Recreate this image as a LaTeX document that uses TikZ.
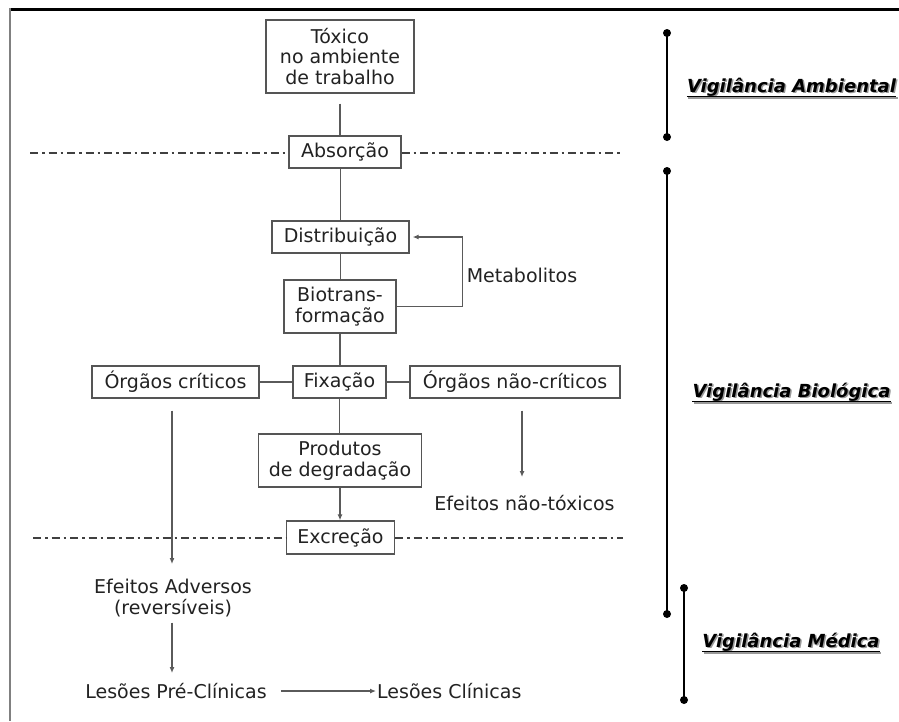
\documentclass[tikz,border=0pt]{standalone}
\usepackage{fontspec}
\setmainfont{DejaVu Sans}
\usetikzlibrary{arrows.meta,calc}
\definecolor{txt}{HTML}{222222}
\definecolor{boxc}{HTML}{555555}
\definecolor{linec}{HTML}{5a5a5a}
\tikzset{
 box/.style={draw=boxc, line width=1.3pt, inner sep=0pt, align=center, text=txt, font=\fontsize{19}{20.5}\selectfont},
 plain/.style={inner sep=0pt, align=center, text=txt, font=\fontsize{19}{21}\selectfont},
 conn/.style={draw=linec, line width=1.4pt},
 arr/.style={conn, -{Latex[length=6pt,width=5pt]}},
 sepline/.style={draw=black!75, line width=2pt, dash pattern=on 8pt off 4pt on 2.5pt off 4pt},
 bar/.style={line width=2.6pt, black},
 lbl/.style={inner sep=0pt, font=\fontsize{18}{20}\selectfont\bfseries\itshape, text=black},
 lblsh/.style={lbl, text=black!40},
}
\newcommand\vigil[3]{%
 \node[lblsh] at ($#2+(1.5,1.5)$) {#3};
 \node[lbl] (#1) at #2 {#3};
 \draw[line width=1.5pt, black!40] ([shift={(1.5pt,-5.5pt)}]#1.base west) -- ([shift={(1.5pt,-5.5pt)}]#1.base east);
 \draw[line width=1.5pt] ([yshift=-4pt]#1.base west) -- ([yshift=-4pt]#1.base east);
}
\begin{document}
\begin{tikzpicture}[x=1pt,y=-1pt]
\useasboundingbox (0,0) rectangle (899,721);
\fill[white] (0,0) rectangle (899,721);
% frame
\draw[line width=3pt] (9,9.5) -- (899,9.5);
\draw[line width=2pt, black!50] (10,8) -- (10,721);

% boxes
\node[box, minimum width=148pt, minimum height=73pt] (tox) at (340,56.5) {Tóxico\\no ambiente\\de trabalho};
\node[box, minimum width=112pt, minimum height=32pt] (abs) at (345,152) {Absorção};
\node[box, minimum width=137pt, minimum height=32pt] (dist) at (340.5,237) {Distribuição};
\node[box, minimum width=112pt, minimum height=53pt] (bio) at (340,306.5) {Biotrans-\\formação};
\node[box, minimum width=93pt, minimum height=32pt] (fix) at (339.5,382) {Fixação};
\node[box, minimum width=167pt, minimum height=32pt] (ocr) at (175.5,382) {Órgãos críticos};
\node[box, minimum width=210pt, minimum height=32pt] (onc) at (515,382) {Órgãos não-críticos};
\node[box, minimum width=163pt, minimum height=53pt] (prod) at (340,460.5) {Produtos\\de degradação};
\node[box, minimum width=108pt, minimum height=33pt] (exc) at (340.5,537.5) {Excreção};

% plain texts
\node[plain] (met) at (522,275) {Metabolitos};
\node[plain] (ntx) at (524.5,503) {Efeitos não-tóxicos};
\node[plain] (adv) at (173,598.5) {Efeitos Adversos\\(reversíveis)};
\node[plain] (lpre) at (176,691) {Lesões Pré-Clínicas};
\node[plain, anchor=west] (lcl) at (377,691) {Lesões Clínicas};

% separator lines
\coordinate (s1l) at (30,153);
\coordinate (s1r) at (623,153);
\coordinate (s2l) at (33,538);
\coordinate (s2r) at (623,538);
\draw[sepline] (s1l) -- (abs.west |- s1l);
\draw[sepline] (abs.east |- s1r) -- (s1r);
\draw[sepline] (s2l) -- (exc.west |- s2l);
\draw[sepline] (exc.east |- s2r) -- (s2r);

% connectors
\draw[conn, shorten <=10pt] (tox.south) -- (tox.south |- abs.north);
\draw[conn] (abs.south -| dist.north) -- (dist.north);
\draw[conn] (dist.south) -- (dist.south |- bio.north);
\draw[conn] (bio.south) -- (bio.south |- fix.north);
\draw[conn] (fix.south) -- (fix.south |- prod.north);
\draw[arr] (prod.south) -- (prod.south |- exc.north);
\draw[conn] (ocr.east) -- (fix.west);
\draw[conn] (fix.east) -- (onc.west);
\draw[arr, shorten >=3pt] (bio.east) -- ++(66,0) |- (dist.east);

\coordinate (advin) at (172,564);
\coordinate (ntxin) at (522,477);
\coordinate (lprein) at (172,673);
\draw[arr, shorten <=12pt] (ocr.south -| advin) -- (advin);
\draw[arr, shorten <=12pt] (onc.south -| ntxin) -- (ntxin);
\draw[arr, shorten <=5pt] (adv.south -| lprein) -- (lprein);
\draw[arr, shorten <=14pt, shorten >=1pt] (lpre.east) -- (lcl.west);

% right bars
\coordinate (b1t) at (667,33);
\coordinate (b1b) at (667,137);
\coordinate (b2t) at (667,171);
\coordinate (b2b) at (667,614);
\coordinate (b3t) at (684,588);
\coordinate (b3b) at (684,700);
\draw[bar] (b1t) -- (b1b);
\draw[bar] (b2t) -- (b2b);
\draw[bar] (b3t) -- (b3b);
\foreach \p in {b1t,b1b,b2t,b2b,b3t,b3b} \fill (\p) circle (4pt);

\vigil{va}{(791.5,87)}{Vigilância Ambiental}
\vigil{vb}{(791.5,392)}{Vigilância Biológica}
\vigil{vm}{(791,642)}{Vigilância Médica}
\end{tikzpicture}
\end{document}
